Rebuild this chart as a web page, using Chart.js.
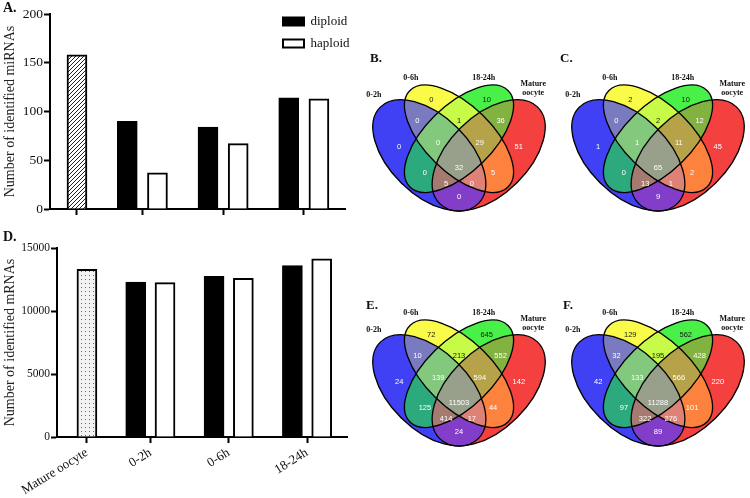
<!DOCTYPE html>
<html>
<head>
<meta charset="utf-8">
<script src="https://cdn.jsdelivr.net/npm/chart.js@4.4.1/dist/chart.umd.min.js"></script>
<style>
  body { margin: 0; background: #fff; }
  #page { position: relative; width: 750px; height: 498px; overflow: hidden; background: #fff; }
  .box { position: absolute; }
  .tag { position: absolute; font-family: 'Liberation Serif', serif; font-weight: bold; line-height: 1; color: #111; }
</style>
</head>
<body>
<div id="page">
  <div class="box" style="left:0;top:0;width:360px;height:235px"><canvas id="chartA"></canvas></div>
  <div class="box" style="left:0;top:238px;width:360px;height:260px"><canvas id="chartD"></canvas></div>
  <div class="box" style="left:360px;top:52px;width:198px;height:195px"><canvas id="vennB"></canvas></div>
  <div class="box" style="left:559px;top:52px;width:198px;height:195px"><canvas id="vennC"></canvas></div>
  <div class="box" style="left:360px;top:287px;width:198px;height:195px"><canvas id="vennE"></canvas></div>
  <div class="box" style="left:559px;top:287px;width:198px;height:195px"><canvas id="vennF"></canvas></div>
  <div class="tag" style="left:3px;top:1px;font-size:14px">A.</div>
  <div class="tag" style="left:3px;top:230px;font-size:14px">D.</div>
  <div class="tag" style="left:370px;top:51px;font-size:13px">B.</div>
  <div class="tag" style="left:560px;top:51px;font-size:13px">C.</div>
  <div class="tag" style="left:366px;top:298px;font-size:13px">E.</div>
  <div class="tag" style="left:563px;top:298px;font-size:13px">F.</div>
</div>
<script>
// bar charts (A: miRNAs, D: mRNAs)
const categories = ['Mature oocyte', '0-2h', '0-6h', '18-24h'];
const miRNAOocyte = [158];
const miRNADiploid = [90, 84, 114];
const miRNAHaploid = [37, 67, 113];
const miRNATicks = [0, 50, 100, 150, 200];
const mRNAOocyte = [13300];
const mRNADiploid = [12300, 12750, 13600];
const mRNAHaploid = [12250, 12600, 14150];
const mRNATicks = [0, 5000, 10000, 15000];

// venn diagrams, sets as bits: 1 = 0-2h, 2 = 0-6h, 4 = 18-24h, 8 = Mature oocyte
const setNames = ['0-2h', '0-6h', '18-24h', 'Mature oocyte'];
const regions = [2, 4, 3, 6, 12, 1, 7, 14, 8, 5, 15, 10, 13, 11, 9];
const countsB = [0, 10, 0, 1, 36, 0, 0, 29, 51, 0, 32, 5, 5, 0, 0];
const countsC = [2, 10, 0, 2, 12, 1, 1, 11, 45, 0, 65, 2, 13, 1, 9];
const countsE = [72, 645, 10, 213, 552, 24, 139, 594, 142, 125, 11503, 44, 414, 17, 24];
const countsF = [129, 562, 32, 195, 428, 42, 133, 566, 220, 97, 11288, 101, 322, 276, 89];

Chart.defaults.font.family = "'Liberation Serif', 'Times New Roman', serif";
Chart.defaults.color = '#111';
Chart.defaults.animation = false;

function makePattern(draw) {
  const c = document.createElement('canvas');
  c.width = 4; c.height = 4;
  const g = c.getContext('2d');
  g.fillStyle = '#fff';
  g.fillRect(0, 0, 4, 4);
  draw(g);
  return g.createPattern(c, 'repeat');
}
const hatch = makePattern(g => {
  g.strokeStyle = '#222';
  g.lineWidth = 1;
  g.beginPath();
  g.moveTo(-1, 5); g.lineTo(5, -1);
  g.moveTo(-1, 1); g.lineTo(1, -1);
  g.moveTo(3, 5); g.lineTo(5, 3);
  g.stroke();
});
const dots = makePattern(g => {
  g.fillStyle = '#f2f2f2';
  g.fillRect(0, 0, 4, 4);
  g.fillStyle = '#666';
  g.fillRect(1, 1, 1, 1);
});

// group centres: the single oocyte bar sits closer to the first pair
const catPos = i => i === 0 ? 0 : i - 0.19;
const pairShift = 0.187;

const legendSpot = {
  id: 'legendSpot',
  afterLayout(chart) {
    const l = chart.legend;
    if (!l || !l.options.display) return;
    l.left = 274; l.top = 6;
    l.right = l.left + l.width; l.bottom = l.top + l.height;
  }
};

function barChart(id, o) {
  return new Chart(document.getElementById(id), {
    type: 'bar',
    data: {
      datasets: [
        { label: categories[0], data: o.oocyte.map(v => ({ x: catPos(0), y: v })), backgroundColor: o.pattern },
        { label: 'diploid', data: o.diploid.map((v, i) => ({ x: catPos(i + 1) - pairShift, y: v })), backgroundColor: '#000' },
        { label: 'haploid', data: o.haploid.map((v, i) => ({ x: catPos(i + 1) + pairShift, y: v })), backgroundColor: '#fff' }
      ]
    },
    options: {
      responsive: true,
      maintainAspectRatio: false,
      events: [],
      datasets: { bar: { barThickness: 20, borderWidth: 2, borderColor: '#000', grouped: false } },
      layout: { padding: o.padding },
      scales: {
        x: {
          type: 'linear', min: o.xMin, max: 3.32, offset: false,
          afterBuildTicks: s => { s.ticks = categories.map((c, i) => ({ value: catPos(i) })); },
          ticks: {
            display: o.xLabels, autoSkip: false, padding: 2,
            minRotation: 32, maxRotation: 32,
            font: { size: 13 },
            callback: (v, i) => categories[i]
          },
          grid: { drawOnChartArea: false, offset: false, tickLength: 6, tickWidth: 2, tickColor: '#000' },
          border: { color: '#000', width: 2 },
          afterFit: s => { s.height = o.xHeight; }
        },
        y: {
          min: 0, max: o.ticks[o.ticks.length - 1],
          afterBuildTicks: s => { s.ticks = o.ticks.map(v => ({ value: v })); },
          ticks: { font: { size: o.tickSize }, padding: 1, callback: v => String(v) },
          grid: { drawOnChartArea: false, tickLength: 6, tickWidth: 2, tickColor: '#000' },
          border: { color: '#000', width: 2 },
          title: { display: true, text: o.title, font: { size: 14 }, color: '#222', padding: { top: 2, bottom: 2 } },
          afterFit: s => { s.width = o.yWidth; }
        }
      },
      plugins: {
        tooltip: { enabled: false },
        legend: {
          display: o.legend,
          position: 'chartArea',
          align: 'start',
          labels: {
            boxWidth: 21, boxHeight: 8, padding: 9,
            font: { size: 13 }, color: '#111',
            filter: item => item.datasetIndex > 0
          }
        }
      }
    },
    plugins: [legendSpot]
  });
}

barChart('chartA', {
  oocyte: miRNAOocyte, diploid: miRNADiploid, haploid: miRNAHaploid, ticks: miRNATicks,
  pattern: hatch, title: 'Number of identified miRNAs', legend: true, xLabels: false,
  xMin: -0.334, xHeight: 26, yWidth: 50, tickSize: 13.5,
  padding: { top: 14, right: 15, left: 0, bottom: 0 }
});
barChart('chartD', {
  oocyte: mRNAOocyte, diploid: mRNADiploid, haploid: mRNAHaploid, ticks: mRNATicks,
  pattern: dots, title: 'Number of identified mRNAs', legend: false, xLabels: true,
  xMin: -0.382, xHeight: 61, yWidth: 57, tickSize: 11.5,
  padding: { top: 10, right: 13, left: 0, bottom: 0 }
});

// ellipse layout in unit space (y up), rotation in degrees
const ellipses = [
  { cx: 0.35, cy: 0.47, a: 0.35, b: 0.20, rot: 135 },
  { cx: 0.50, cy: 0.555, a: 0.35, b: 0.17, rot: 135 },
  { cx: 0.50, cy: 0.555, a: 0.35, b: 0.17, rot: 45 },
  { cx: 0.65, cy: 0.47, a: 0.35, b: 0.20, rot: 45 }
];
const regionColors = {
  1: '#4040f5', 2: '#fafa48', 4: '#48f048', 8: '#f54040',
  3: '#7a7ac0', 6: '#c8fa48', 12: '#82b240', 5: '#2daa7d', 10: '#fc823e', 9: '#823ec8',
  7: '#82c87d', 14: '#b6a248', 13: '#a57a70', 11: '#de8278', 15: '#98a08c'
};
const labelPos = [
  [0.36, 0.754], [0.64, 0.754], [0.29, 0.648], [0.5, 0.648], [0.71, 0.648],
  [0.198, 0.515], [0.395, 0.535], [0.605, 0.535], [0.802, 0.515],
  [0.328, 0.378], [0.5, 0.404], [0.672, 0.378], [0.435, 0.323], [0.565, 0.323], [0.5, 0.255]
];
const setLabelPos = [[0.07, 0.78], [0.257, 0.865], [0.625, 0.865], [0.875, 0.835]];

const vennPlugin = {
  id: 'venn',
  beforeDatasetsDraw(chart) {
    const { ctx, scales: { x, y } } = chart;
    const x0 = x.getPixelForValue(0), y0 = y.getPixelForValue(0);
    const sx = x.getPixelForValue(1) - x0, sy = y.getPixelForValue(1) - y0;
    const toUnit = () => { ctx.translate(x0, y0); ctx.scale(sx, sy); };
    const ellipsePath = e => ctx.ellipse(e.cx, e.cy, e.a, e.b, e.rot * Math.PI / 180, 0, 2 * Math.PI);
    for (let mask = 1; mask < 16; mask++) {
      ctx.save();
      toUnit();
      ellipses.forEach((e, i) => {
        ctx.beginPath();
        if (!(mask & (1 << i))) ctx.rect(-1, -1, 3, 3);
        ellipsePath(e);
        ctx.clip('evenodd');
      });
      ctx.fillStyle = regionColors[mask];
      ctx.fillRect(-1, -1, 3, 3);
      ctx.restore();
    }
    ctx.save();
    ctx.strokeStyle = '#000';
    ctx.lineWidth = 1.3;
    ellipses.forEach(e => {
      ctx.save(); toUnit(); ctx.beginPath(); ellipsePath(e); ctx.restore();
      ctx.stroke();
    });
    ctx.restore();
  },
  afterDatasetsDraw(chart) {
    const { ctx, scales: { x, y } } = chart;
    const pts = chart.getDatasetMeta(0).data;
    const raw = chart.data.datasets[0].data;
    ctx.save();
    ctx.textAlign = 'center';
    ctx.textBaseline = 'middle';
    ctx.font = '7.5px "Liberation Sans", Arial, sans-serif';
    pts.forEach((pt, i) => {
      const m = regions[i];
      ctx.fillStyle = (m === 2 || m === 4 || m === 6) ? '#1a1a1a' : '#ffffff';
      ctx.fillText(String(raw[i].n), pt.x, pt.y);
    });
    ctx.font = 'bold 8px "Liberation Serif", serif';
    ctx.fillStyle = '#111';
    setNames.forEach((name, i) => {
      const px = x.getPixelForValue(setLabelPos[i][0]);
      const py = y.getPixelForValue(setLabelPos[i][1]);
      const lines = name === 'Mature oocyte' ? ['Mature', 'oocyte'] : [name];
      lines.forEach((t, k) => ctx.fillText(t, px, py + k * 9));
    });
    ctx.restore();
  }
};

function vennChart(id, counts) {
  return new Chart(document.getElementById(id), {
    type: 'scatter',
    data: {
      datasets: [{
        data: labelPos.map((p, i) => ({ x: p[0], y: p[1], n: counts[i] })),
        pointRadius: 0, pointHoverRadius: 0
      }]
    },
    options: {
      responsive: true,
      maintainAspectRatio: false,
      events: [],
      layout: { padding: 0 },
      scales: {
        x: { type: 'linear', min: 0, max: 1, display: false },
        y: { type: 'linear', min: 0, max: 1, display: false }
      },
      plugins: { legend: { display: false }, tooltip: { enabled: false } }
    },
    plugins: [vennPlugin]
  });
}

vennChart('vennB', countsB);
vennChart('vennC', countsC);
vennChart('vennE', countsE);
vennChart('vennF', countsF);
</script>
</body>
</html>
